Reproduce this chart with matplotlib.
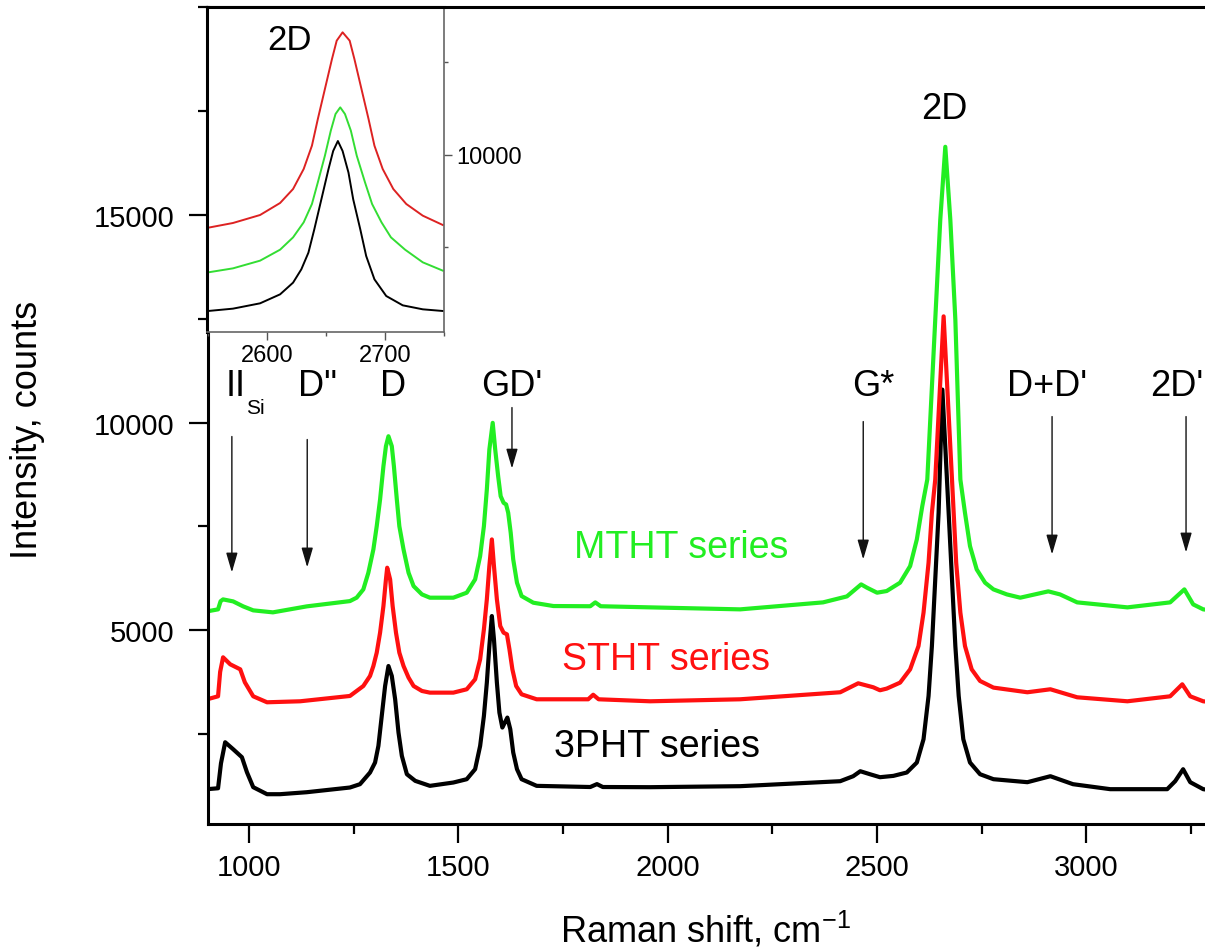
import matplotlib
matplotlib.use("Agg")
import matplotlib.pyplot as plt
from matplotlib.ticker import MultipleLocator

plt.rcParams['font.family'] = ['Liberation Sans', 'DejaVu Sans']

# ---------------- main spectra (Raman shift, intensity) ----------------
x_3pht = [900, 926, 933, 943, 962, 983, 995, 1010, 1043, 1074, 1138, 1241, 1265, 1289, 1301,
          1309, 1317, 1325, 1333, 1341, 1349, 1357, 1365, 1377, 1397, 1432, 1488, 1520, 1540,
          1552, 1561, 1568, 1574, 1580, 1585, 1592, 1598, 1605, 1611, 1617, 1624, 1631, 1640,
          1651, 1687, 1815, 1831, 1845, 1958, 2173, 2412, 2443, 2460, 2483, 2507, 2539, 2571,
          2595, 2611, 2623, 2631, 2639, 2647, 2656, 2671, 2679, 2687, 2695, 2706, 2722, 2746,
          2778, 2859, 2914, 2968, 3057, 3193, 3212, 3231, 3248, 3279, 3300]
y_3pht = [1178, 1200, 1800, 2307, 2140, 1947, 1586, 1226, 1057, 1057, 1105, 1218, 1298, 1579, 1819,
          2220, 2941, 3661, 4142, 3902, 3341, 2540, 1979, 1538, 1378, 1258, 1338, 1418, 1659,
          2220, 2941, 3742, 4623, 5344, 4784, 3742, 3020, 2661, 2781, 2901, 2620, 2060, 1659,
          1418, 1258, 1230, 1300, 1230, 1226, 1250, 1370, 1490, 1610, 1538, 1466, 1498, 1579,
          1819, 2380, 3421, 4623, 6226, 7829, 10794, 7829, 6226, 4623, 3421, 2380, 1819, 1538,
          1418, 1346, 1490, 1298, 1178, 1178, 1370, 1658, 1346, 1178, 1150]

x_stht = [900, 926, 931, 938, 955, 979, 990, 1010, 1043, 1122, 1241, 1273, 1289, 1297, 1305,
          1313, 1321, 1327, 1330, 1337, 1343, 1351, 1359, 1369, 1381, 1393, 1413, 1432, 1488,
          1520, 1540, 1552, 1561, 1568, 1574, 1580, 1585, 1592, 1600, 1608, 1616, 1622, 1629,
          1638, 1651, 1687, 1810, 1822, 1835, 1958, 2173, 2412, 2455, 2491, 2507, 2523, 2555,
          2579, 2599, 2611, 2623, 2631, 2639, 2659, 2679, 2683, 2689, 2699, 2710, 2726, 2746,
          2778, 2859, 2914, 2978, 3098, 3200, 3229, 3248, 3279, 3300]
y_stht = [3341, 3413, 4000, 4351, 4183, 4062, 3750, 3413, 3269, 3293, 3421, 3661, 3902, 4142, 4463,
          4944, 5585, 6226, 6507, 6226, 5585, 4944, 4463, 4142, 3863, 3661, 3541, 3501, 3501,
          3582, 3822, 4303, 5024, 5745, 6546, 7188, 6546, 5745, 5103, 4944, 4904, 4543, 4062,
          3661, 3461, 3341, 3341, 3450, 3341, 3293, 3341, 3510, 3726, 3630, 3558, 3598, 3742,
          4062, 4623, 5425, 6627, 7829, 8630, 12556, 8630, 7829, 6627, 5425, 4623, 4062, 3782,
          3622, 3510, 3582, 3389, 3293, 3413, 3702, 3413, 3293, 3270]

x_mtht = [900, 926, 932, 938, 962, 986, 1010, 1057, 1138, 1241, 1257, 1273, 1285, 1297, 1305,
          1313, 1321, 1327, 1333, 1341, 1346, 1353, 1359, 1369, 1381, 1393, 1413, 1432, 1488,
          1520, 1540, 1552, 1561, 1568, 1574, 1582, 1588, 1595, 1601, 1608, 1614, 1619, 1625,
          1631, 1640, 1651, 1679, 1727, 1815, 1827, 1840, 1958, 2173, 2371, 2428, 2462, 2476,
          2500, 2523, 2555, 2579, 2595, 2608, 2620, 2639, 2651, 2663, 2675, 2687, 2699, 2710,
          2722, 2738, 2758, 2778, 2810, 2842, 2909, 2937, 2978, 3098, 3200, 3234, 3255, 3279, 3300]
y_mtht = [5457, 5505, 5700, 5745, 5697, 5577, 5481, 5433, 5577, 5704, 5786, 5986, 6387, 6947, 7507,
          8149, 8950, 9431, 9671, 9431, 8950, 8149, 7507, 6947, 6387, 6065, 5865, 5786, 5786,
          5906, 6226, 6787, 7507, 8390, 9351, 9993, 9351, 8710, 8229, 8069, 8029, 7829, 7348,
          6707, 6147, 5825, 5665, 5585, 5580, 5673, 5580, 5553, 5505, 5673, 5817, 6106, 6026,
          5906, 5946, 6147, 6546, 7188, 7988, 8630, 12477, 14881, 16636, 14881, 12477, 8630, 7829,
          7027, 6466, 6147, 5986, 5865, 5786, 5938, 5865, 5673, 5553, 5673, 5986, 5625, 5505, 5480]

# ---------------- inset spectra (2D band) ----------------
xi_red = [2550, 2571, 2594, 2611, 2622, 2631, 2638, 2643, 2649, 2655, 2659, 2664, 2670, 2674,
          2680, 2686, 2691, 2698, 2707, 2718, 2732, 2749]
yi_red = [8035, 8162, 8378, 8703, 9081, 9622, 10252, 10973, 11784, 12595, 13090, 13316, 13090, 12595,
          11784, 10973, 10252, 9622, 9081, 8676, 8360, 8108]
xi_green = [2550, 2571, 2594, 2611, 2622, 2631, 2638, 2643, 2649, 2654, 2658, 2662, 2666, 2671,
            2676, 2683, 2689, 2697, 2705, 2717, 2732, 2749]
yi_green = [6828, 6936, 7144, 7441, 7774, 8180, 8676, 9261, 9982, 10658, 11108, 11288, 11108, 10658,
            9982, 9261, 8676, 8180, 7774, 7441, 7099, 6874]
xi_black = [2550, 2571, 2594, 2611, 2622, 2629, 2635, 2640, 2646, 2652, 2656, 2660, 2664, 2669,
            2673, 2679, 2684, 2691, 2701, 2715, 2732, 2749]
yi_black = [5784, 5847, 5991, 6234, 6550, 6910, 7360, 7991, 8802, 9613, 10108, 10378, 10108, 9523,
            8802, 7991, 7270, 6640, 6189, 5937, 5829, 5784]

# ---------------- peak labels ----------------
peak_labels = ['D"', 'D', "GD'", 'G*', "D+D'", "2D'"]
peak_label_x = [1164, 1345, 1628, 2491, 2906, 3215]
arrow_x = [959, 1139, 1628, 2467, 2918, 3238]
arrow_top = [9664, 9592, 10361, 10024, 10144, 10144]
arrow_tip = [6394, 6515, 8894, 6707, 6827, 6875]

series_names = ['MTHT series', 'STHT series', '3PHT series']

GREEN = '#22ee22'
RED = '#ff1010'
BLACK = '#000000'

W, H = 1205, 953
fig = plt.figure(figsize=(W / 100, H / 100), dpi=100)

# main axes (right edge runs slightly beyond the figure, as in the reference)
ax = fig.add_axes([208 / W, 1 - 825 / H, (1212 - 208) / W, (825 - 8) / H])
ax.plot(x_3pht, y_3pht, color=BLACK, lw=3.0, solid_joinstyle='round')
ax.plot(x_stht, y_stht, color=RED, lw=3.0, solid_joinstyle='round')
ax.plot(x_mtht, y_mtht, color=GREEN, lw=3.0, solid_joinstyle='round')
ax.set_xlim(902, 3300)
ax.set_ylim(340, 20000)

ax.xaxis.set_major_locator(MultipleLocator(500))
ax.xaxis.set_minor_locator(MultipleLocator(250))
ax.yaxis.set_major_locator(MultipleLocator(5000))
ax.yaxis.set_minor_locator(MultipleLocator(2500))
ax.tick_params(which='major', direction='out', length=14, width=1.6, labelsize=21, pad=7)
ax.tick_params(which='minor', direction='out', length=7, width=1.6)
ax.tick_params(axis='y', which='major', pad=10)
ax.set_yticks([5000, 10000, 15000])
for s in ax.spines.values():
    s.set_linewidth(2.2)

# labels of peaks
FS = 26
for lab, lx in zip(peak_labels, peak_label_x):
    ax.text(lx, 10673, lab, ha='center', va='baseline', fontsize=FS)
ax.text(945, 10673, 'II', ha='left', va='baseline', fontsize=FS)
ax.text(993, 10241, 'Si', ha='left', va='baseline', fontsize=15)
ax.text(2660, 17333, '2D', ha='center', va='baseline', fontsize=FS)

# arrows
for axx, yt, yb in zip(arrow_x, arrow_top, arrow_tip):
    ax.annotate('', xy=(axx, yb), xytext=(axx, yt),
                arrowprops=dict(arrowstyle='-|>,head_length=1.2,head_width=0.35',
                                color='#111111', lw=1.0, shrinkA=0, shrinkB=0))

# series names
ax.text(2288, 6995, series_names[0], color=GREEN, ha='right', va='center', fontsize=27)
ax.text(2245, 4303, series_names[1], color=RED, ha='right', va='center', fontsize=27)
ax.text(2221, 2211, series_names[2], color=BLACK, ha='right', va='center', fontsize=27)

# axis titles
fig.text(705 / W, 1 - 930 / H, 'Raman shift, cm$^{\\mathregular{-1}}$', ha='center', va='center', fontsize=26)
fig.text(28 / W, 1 - 430 / H, 'Intensity, counts', ha='center', va='center', rotation=90, fontsize=26)

# inset
ins = fig.add_axes([207 / W, 1 - 333 / H, (444 - 207) / W, (333 - 8) / H])
ins.plot(xi_red, yi_red, color='#dd2222', lw=1.4)
ins.plot(xi_green, yi_green, color='#33dd33', lw=1.4)
ins.plot(xi_black, yi_black, color=BLACK, lw=1.4)
ins.set_xlim(2549, 2750)
ins.set_ylim(5216, 14000)
ins.yaxis.tick_right()
ins.xaxis.set_major_locator(MultipleLocator(100))
ins.xaxis.set_minor_locator(MultipleLocator(50))
ins.set_yticks([10000])
ins.yaxis.set_minor_locator(MultipleLocator(2500))
ins.tick_params(which='major', direction='out', length=6, width=1, color='#555555', labelsize=17, pad=3)
ins.tick_params(which='minor', direction='out', length=3, width=1, color='#555555')
ins.tick_params(axis='y', which='both', left=False, right=True)
for name, s in ins.spines.items():
    s.set_linewidth(1.2)
    s.set_color('#666666')
for name in ('left', 'top'):
    ins.spines[name].set_color('black')
    ins.spines[name].set_linewidth(2.2)
ins.text(2619, 13135, '2D', ha='center', va='center', fontsize=25)

fig.savefig('out.png', dpi=100)
